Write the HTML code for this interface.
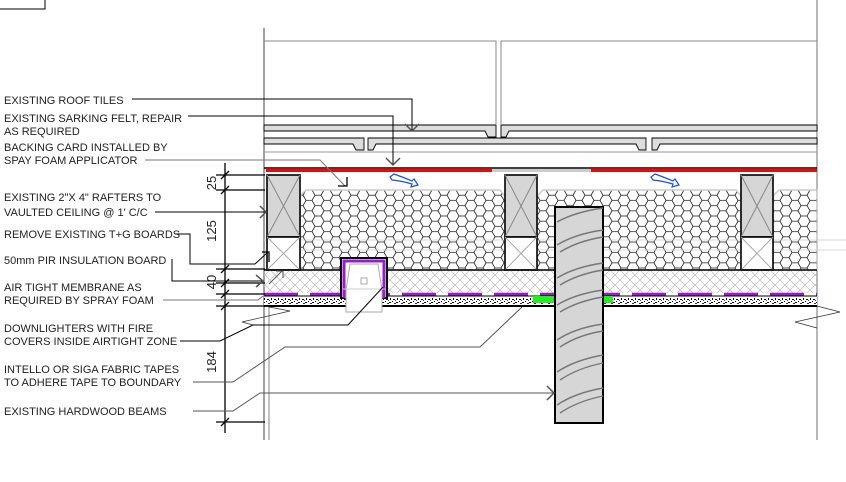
<!DOCTYPE html>
<html><head><meta charset="utf-8"><style>
html,body{margin:0;padding:0;background:#fff;}
svg{display:block;}
text{font-family:"Liberation Sans",Arial,sans-serif;font-size:11px;fill:#222;}
</style></head><body>
<svg width="846" height="482" viewBox="0 0 846 482" xmlns="http://www.w3.org/2000/svg">
<defs>
<pattern id="hex" x="300" y="190" width="18" height="10.4" patternUnits="userSpaceOnUse">
<g fill="none" stroke="#222" stroke-width="0.8">
<polygon points="3,5.2 6,0 12,0 15,5.2 12,10.4 6,10.4"/>
<line x1="0" y1="5.2" x2="3" y2="5.2"/><line x1="15" y1="5.2" x2="18" y2="5.2"/>
</g></pattern>
<pattern id="xh" width="10" height="10" patternUnits="userSpaceOnUse">
<path d="M0,0 L10,10 M10,0 L0,10" stroke="#bbb" stroke-width="0.7"/></pattern>
<pattern id="dots" width="7" height="9" patternUnits="userSpaceOnUse">
<rect width="7" height="9" fill="#fff"/>
<rect x="1" y="2" width="2" height="1" fill="#000"/><rect x="4" y="5" width="2" height="1" fill="#000"/><rect x="2" y="6" width="2" height="1" fill="#333"/><rect x="5" y="1" width="1" height="2" fill="#000"/><rect x="0" y="4" width="1" height="1" fill="#000"/><rect x="3" y="3" width="1" height="1" fill="#444"/>
</pattern>
</defs>

<path d="M0,9 H45 V0" fill="none" stroke="#000" stroke-width="1"/>

<line x1="264" y1="28" x2="264" y2="440" stroke="#444" stroke-width="1"/>
<line x1="817" y1="0" x2="817" y2="440" stroke="#888" stroke-width="1.2"/>
<path d="M264,41 H496 V124 M501,124 V41 H817" fill="none" stroke="#888" stroke-width="1"/>
<line x1="269" y1="306" x2="269" y2="440" stroke="#999" stroke-width="1.2"/>

<path d="M264,125 H496 V137 H488 L485,131 H264 Z" fill="#ddd" stroke="#000" stroke-width="0.9"/>
<path d="M501,125 H817 V131 H509 L506,137 H501 Z" fill="#ddd" stroke="#000" stroke-width="0.9"/>
<path d="M264,138 H364 V150 H356 L353,144 H264 Z" fill="#ddd" stroke="#000" stroke-width="0.9"/>
<path d="M368,138 H646 V150 H639 L636,144 H376 L373,150 H368 Z" fill="#ddd" stroke="#000" stroke-width="0.9"/>
<path d="M652,138 H817 V144 H660 L657,150 H652 Z" fill="#ddd" stroke="#000" stroke-width="0.9"/>
<line x1="264" y1="152" x2="817" y2="152" stroke="#999" stroke-width="1"/>

<line x1="264" y1="168" x2="817" y2="168" stroke="#000" stroke-width="1.5"/>
<rect x="266" y="169" width="226" height="3" fill="#f00"/>
<rect x="492" y="169" width="99" height="3" fill="#ccc"/>
<rect x="591" y="169" width="226" height="3" fill="#f00"/>

<path d="M300,270 V196 L306,190 H500 L505,196 V270 Z" fill="url(#hex)" stroke="#ccc" stroke-width="1.5"/>
<path d="M537,270 V196 L543,190 H736 L741,196 V270 Z" fill="url(#hex)" stroke="#ccc" stroke-width="1.5"/>
<path d="M773,270 V196 L779,190 H817 V270 Z" fill="url(#hex)" stroke="#ccc" stroke-width="1.5"/>
<line x1="264" y1="240" x2="846" y2="240" stroke="#ccc" stroke-width="0.8"/>
<line x1="264" y1="250" x2="846" y2="250" stroke="#ccc" stroke-width="0.8"/>

<g stroke-width="1">
<g>
<rect x="267" y="175" width="33" height="62" fill="#d6d6d6" stroke="#000" stroke-width="1.6"/>
<path d="M267,175 L300,237 M300,175 L267,237" stroke="#888"/>
<rect x="267" y="237" width="33" height="33" fill="#fff" stroke="#000" stroke-width="1.6"/>
<path d="M267,237 L300,270 M300,237 L267,270" stroke="#aaa"/>
</g>
<g>
<rect x="505" y="175" width="32" height="62" fill="#d6d6d6" stroke="#000" stroke-width="1.6"/>
<path d="M505,175 L537,237 M537,175 L505,237" stroke="#888"/>
<rect x="505" y="237" width="32" height="33" fill="#fff" stroke="#000" stroke-width="1.6"/>
<path d="M505,237 L537,270 M537,237 L505,270" stroke="#aaa"/>
</g>
<g>
<rect x="741" y="175" width="32" height="62" fill="#d6d6d6" stroke="#000" stroke-width="1.6"/>
<path d="M741,175 L773,237 M773,175 L741,237" stroke="#888"/>
<rect x="741" y="237" width="32" height="33" fill="#fff" stroke="#000" stroke-width="1.6"/>
<path d="M741,237 L773,270 M773,237 L741,270" stroke="#aaa"/>
</g>
</g>

<rect x="264" y="270" width="553" height="23" fill="url(#xh)"/>
<line x1="264" y1="270" x2="817" y2="270" stroke="#000" stroke-width="1.6"/>
<line x1="264" y1="294.5" x2="817" y2="294.5" stroke="#9a1ad0" stroke-width="3.5" stroke-dasharray="34,12"/>
<rect x="264" y="296" width="553" height="9" fill="url(#dots)"/>
<line x1="264" y1="306" x2="817" y2="306" stroke="#000" stroke-width="2"/>
<line x1="264" y1="296" x2="817" y2="296" stroke="#000" stroke-width="1"/>
<rect x="533" y="296" width="22" height="7" fill="#2e2"/>
<rect x="603" y="296" width="10" height="7" fill="#2e2"/>

<rect x="341" y="258" width="46" height="40" fill="#fff" stroke="#000" stroke-width="2"/>
<path d="M344,298 V261 H384 V298" fill="none" stroke="#9a1ad0" stroke-width="3"/>
<path d="M350,264 H378 L382,290 V312 H346 V290 Z" fill="#fff" stroke="#aaa" stroke-width="1"/>
<rect x="361" y="278" width="6" height="6" fill="none" stroke="#aaa"/>
<line x1="343" y1="289" x2="385" y2="289" stroke="#ccc"/>

<rect x="555" y="207" width="48" height="216" fill="#d6d6d6" stroke="#000" stroke-width="2"/>
<g fill="none" stroke="#777" stroke-width="1.4">
<path d="M557,222 Q575,212 603,208"/>
<path d="M557,245 Q575,234 603,230"/><path d="M560,252 Q578,241 603,237"/>
<path d="M557,278 Q575,267 603,263"/><path d="M560,285 Q578,274 603,270"/>
<path d="M557,305 Q575,294 603,290"/><path d="M560,312 Q578,301 603,297"/>
<path d="M557,340 Q575,328 603,324"/><path d="M560,347 Q578,335 603,331"/>
<path d="M557,372 Q575,360 603,355"/><path d="M560,380 Q578,368 603,363"/>
<path d="M557,405 Q575,393 603,388"/><path d="M560,413 Q578,401 603,396"/>
</g>

<path d="M264,306 L290,311 L242,322 L253,325" fill="none" stroke="#333" stroke-width="0.8"/>
<path d="M817,306 L840,312 L795,322 L817,328" fill="none" stroke="#333" stroke-width="0.8"/>

<path d="M390,177 L394,174 Q405,178 412,181 L414,179 L418,185 L411,187 L412,184 Q402,181 392,180 Z" fill="none" stroke="#1a4ef0" stroke-width="1.2"/>
<path d="M651,177 L655,174 Q666,178 673,181 L675,179 L679,185 L672,187 L673,184 Q663,181 653,180 Z" fill="none" stroke="#1a4ef0" stroke-width="1.2"/>

<g stroke="#000" stroke-width="1.3" fill="none">
<line x1="225" y1="163" x2="225" y2="433"/>
<path d="M216,175 H265 M216,190 H265 M216,269 H265 M216,283 H265 M216,294 H265 M216,306 H265 M216,422 H265"/>
<path d="M221,179 L229,171 M221,194 L229,186 M221,273 L229,265 M221,287 L229,279 M221,298 L229,290 M221,310 L229,302 M221,426 L229,418"/>
</g>
<text transform="translate(216,183) rotate(-90)" text-anchor="middle" style="font-size:13px">25</text>
<text transform="translate(216,231) rotate(-90)" text-anchor="middle" style="font-size:13px">125</text>
<text transform="translate(216,282) rotate(-90)" text-anchor="middle" style="font-size:13px">40</text>
<text transform="translate(216,362) rotate(-90)" text-anchor="middle" style="font-size:13px">184</text>

<g fill="none" stroke="#000" stroke-width="1">
<path d="M132,99 H412 V130"/><path d="M405,124 L412,131 L419,124" stroke="#555" stroke-width="1.5"/>
<path d="M188,116 H393 V164"/><path d="M386,158 L393,165 L400,158" stroke="#555" stroke-width="1.5"/>
<path d="M145,160 H320 L345,186" stroke="#777"/><path d="M338,186 H347 V177" stroke="#000" stroke-width="1.3"/>
<path d="M155,212 H265"/><path d="M260,206 L266,212 L260,218" stroke="#555" stroke-width="1.5"/>
<path d="M175,234 H190 V264 H255 L268,252"/><path d="M262,252 H269 V262" stroke-width="1.3"/>
<path d="M172,259 V281 H262"/><path d="M256,275 L263,281 L256,287" stroke="#555" stroke-width="1.5"/>
<path d="M163,300 H258 L263,296" stroke="#777"/>
<path d="M180,341 H220 L253,325 H348 L383,287"/>
<path d="M193,382 H233 L285,347 H480 L522,307" stroke="#555"/>
<path d="M193,411 H233 L260,393 H553" stroke="#555"/><path d="M547,386 L554,393 L547,400" stroke="#555" stroke-width="1.5"/>
<path d="M282,271 L269,284 M276,271 H283 V278" stroke="#555"/>
</g>

<text x="4" y="104">EXISTING ROOF TILES</text>
<text x="4" y="122">EXISTING SARKING FELT, REPAIR</text>
<text x="4" y="135">AS REQUIRED</text>
<text x="4" y="151">BACKING CARD INSTALLED BY</text>
<text x="4" y="164">SPAY FOAM APPLICATOR</text>
<text x="4" y="201">EXISTING 2"X 4" RAFTERS TO</text>
<text x="4" y="216">VAULTED CEILING @ 1' C/C</text>
<text x="4" y="238">REMOVE EXISTING T+G BOARDS</text>
<text x="4" y="264">50mm PIR INSULATION BOARD</text>
<text x="4" y="291">AIR TIGHT MEMBRANE AS</text>
<text x="4" y="304">REQUIRED BY SPRAY FOAM</text>
<text x="4" y="332">DOWNLIGHTERS WITH FIRE</text>
<text x="4" y="345">COVERS INSIDE AIRTIGHT ZONE</text>
<text x="4" y="373">INTELLO OR SIGA FABRIC TAPES</text>
<text x="4" y="386">TO ADHERE TAPE TO BOUNDARY</text>
<text x="4" y="415">EXISTING HARDWOOD BEAMS</text>
</svg>
</body></html>
